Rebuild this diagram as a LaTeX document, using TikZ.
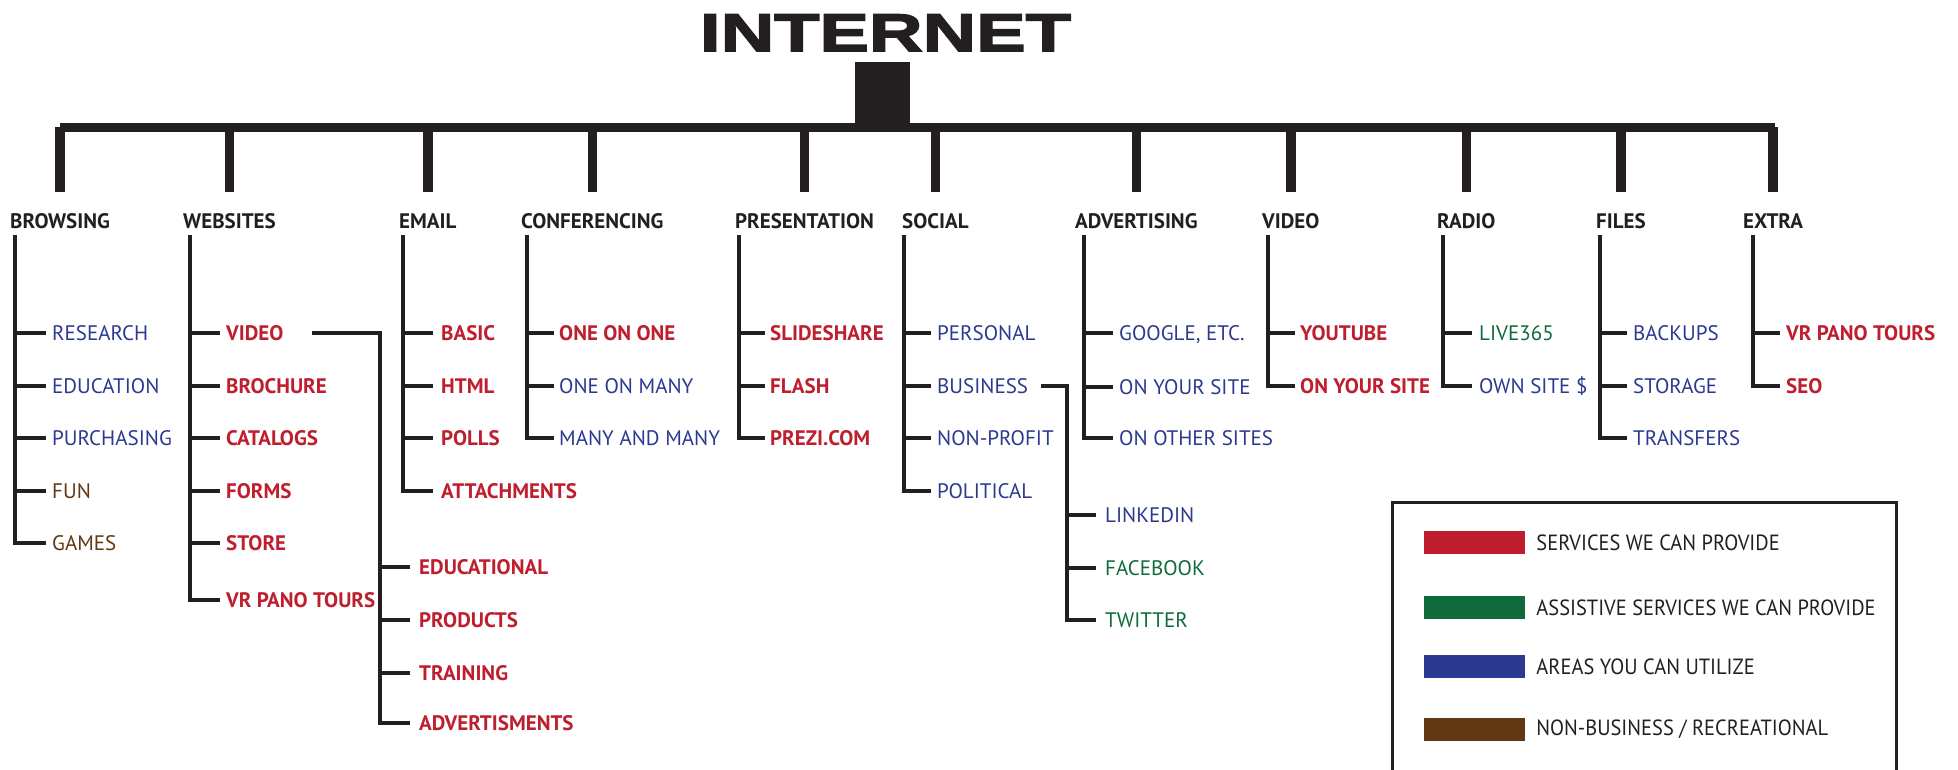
\documentclass[tikz,border=0pt]{standalone}
\usepackage{fontspec}
\setmainfont{PT Sans}
\newfontfamily\titlefont{Liberation Sans}[FakeStretch=1.4, BoldFeatures={FakeBold=3}]
\newfontfamily\legendfont{PT Sans}[FakeStretch=0.93]
\usetikzlibrary{positioning}
\definecolor{ink}{HTML}{231F20}
\definecolor{svcred}{HTML}{BE1E2D}
\definecolor{asgreen}{HTML}{0F6B3A}
\definecolor{areablue}{HTML}{2B3990}
\definecolor{funbrown}{HTML}{603813}
\tikzset{
  head/.style={anchor=base west, inner sep=0, text height=14.7pt, text depth=0pt, text=ink,
    font=\fontsize{21}{25}\selectfont\bfseries},
  item/.style={anchor=west, inner sep=0, text height=14.7pt, text depth=0pt,
    font=\fontsize{21}{25}\selectfont},
  svc/.style={item, text=svcred, font=\fontsize{21}{25}\selectfont\bfseries},
  area/.style={item, text=areablue},
  assist/.style={item, text=asgreen},
  leisure/.style={item, text=funbrown},
  drop/.style={ink, line width=9.5pt},
  twig/.style={ink, line width=4pt},
  swatch/.style={inner sep=0, minimum width=101pt, minimum height=23pt},
  legtext/.style={anchor=west, inner sep=0, text=ink, font=\legendfont\fontsize{22}{26}\selectfont}
}
\begin{document}
\begin{tikzpicture}[x=1pt, y=-1pt]
\path[use as bounding box] (0,0) rectangle (1958,770);
\clip (0,0) rectangle (1958,770);
% top of the tree
\node[anchor=base, inner sep=0, text=ink, font=\titlefont\fontsize{53}{60}\selectfont\bfseries] (net) at (885.5,51) {INTERNET};
\node[fill=ink, inner sep=0, minimum width=55pt, minimum height=70pt] (hub) at (882.5,97) {};
\node[fill=ink, inner sep=0, minimum width=1715pt, minimum height=9.5pt] (bar) at (917.4,127.5) {};
% headings
\node[head] (hbrw) at (10,228) {BROWSING};
\node[head] (hweb) at (183,228) {WEBSITES};
\node[head] (hmail) at (399,228) {EMAIL};
\node[head] (hconf) at (521,228) {CONFERENCING};
\node[head] (hpres) at (735,228) {PRESENTATION};
\node[head] (hsoc) at (902,228) {SOCIAL};
\node[head] (hadv) at (1075,228) {ADVERTISING};
\node[head] (hvid) at (1262,228) {VIDEO};
\node[head] (hrad) at (1437,228) {RADIO};
\node[head] (hfil) at (1596,228) {FILES};
\node[head] (hext) at (1743,228) {EXTRA};
\draw[drop] (bar.center -| hbrw.north) -- ([yshift=21pt]hbrw.north);
\draw[drop] (bar.center -| hweb.north) -- ([yshift=21pt]hweb.north);
\draw[drop] (bar.center -| hmail.north) -- ([yshift=21pt]hmail.north);
\draw[drop] (bar.center -| hconf.north) -- ([yshift=21pt]hconf.north);
\draw[drop] (bar.center -| hpres.north) -- ([yshift=21pt]hpres.north);
\draw[drop] (bar.center -| hsoc.north) -- ([yshift=21pt]hsoc.north);
\draw[drop] (bar.center -| hadv.north) -- ([yshift=21pt]hadv.north);
\draw[drop] (bar.center -| hvid.north) -- ([yshift=21pt]hvid.north);
\draw[drop] (bar.center -| hrad.north) -- ([yshift=21pt]hrad.north);
\draw[drop] (bar.center -| hfil.north) -- ([yshift=21pt]hfil.north);
\draw[drop] (bar.center -| hext.north) -- ([yshift=21pt]hext.north);
% browsing
\coordinate (brwtop) at (15,235);
\node[area] (res) at (52,333) {RESEARCH};
\node[area] (edu) at (52,386) {EDUCATION};
\node[area] (pur) at (52,438) {PURCHASING};
\node[leisure] (fun) at (52,491) {FUN};
\node[leisure] (gam) at (52,543) {GAMES};
\draw[twig] (brwtop) |- ([xshift=-6pt]res.west);
\draw[twig] (brwtop) |- ([xshift=-6pt]edu.west);
\draw[twig] (brwtop) |- ([xshift=-6pt]pur.west);
\draw[twig] (brwtop) |- ([xshift=-6pt]fun.west);
\draw[twig] (brwtop) |- ([xshift=-6pt]gam.west);
% websites
\coordinate (webtop) at (190,235);
\node[svc] (wvid) at (226,333) {VIDEO};
\node[svc] (broc) at (226,386) {BROCHURE};
\node[svc] (cat) at (226,438) {CATALOGS};
\node[svc] (form) at (226,491) {FORMS};
\node[svc] (store) at (226,543) {STORE};
\node[svc] (wvr) at (226,600) {VR PANO TOURS};
\draw[twig] (webtop) |- ([xshift=-6pt]wvid.west);
\draw[twig] (webtop) |- ([xshift=-6pt]broc.west);
\draw[twig] (webtop) |- ([xshift=-6pt]cat.west);
\draw[twig] (webtop) |- ([xshift=-6pt]form.west);
\draw[twig] (webtop) |- ([xshift=-6pt]store.west);
\draw[twig] (webtop) |- ([xshift=-6pt]wvr.west);
% video kinds
\node[svc] (vedu) at (419,567) {EDUCATIONAL};
\node[svc] (vprod) at (419,620) {PRODUCTS};
\node[svc] (vtrain) at (419,673) {TRAINING};
\node[svc] (vadv) at (419,723) {ADVERTISMENTS};
\draw[twig] ([xshift=28pt]wvid.east) -| ([xshift=-39pt]vadv.west) -- ([xshift=-9pt]vadv.west);
\draw[twig] ([xshift=-39pt]vedu.west) -- ([xshift=-9pt]vedu.west);
\draw[twig] ([xshift=-39pt]vprod.west) -- ([xshift=-9pt]vprod.west);
\draw[twig] ([xshift=-39pt]vtrain.west) -- ([xshift=-9pt]vtrain.west);
% email
\coordinate (mailtop) at (403,235);
\node[svc] (basic) at (441,333) {BASIC};
\node[svc] (html) at (441,386) {HTML};
\node[svc] (poll) at (441,438) {POLLS};
\node[svc] (att) at (441,491) {ATTACHMENTS};
\draw[twig] (mailtop) |- ([xshift=-8pt]basic.west);
\draw[twig] (mailtop) |- ([xshift=-8pt]html.west);
\draw[twig] (mailtop) |- ([xshift=-8pt]poll.west);
\draw[twig] (mailtop) |- ([xshift=-8pt]att.west);
% conferencing
\coordinate (conftop) at (527,235);
\node[svc] (one) at (559,333) {ONE ON ONE};
\node[area] (onemany) at (559,386) {ONE ON MANY};
\node[area] (many) at (559,438) {MANY AND MANY};
\draw[twig] (conftop) |- ([xshift=-5pt]one.west);
\draw[twig] (conftop) |- ([xshift=-5pt]onemany.west);
\draw[twig] (conftop) |- ([xshift=-5pt]many.west);
% presentation
\coordinate (prestop) at (739,235);
\node[svc] (slide) at (770,333) {SLIDESHARE};
\node[svc] (flash) at (770,386) {FLASH};
\node[svc] (prezi) at (770,438) {PREZI.COM};
\draw[twig] (prestop) |- ([xshift=-5pt]slide.west);
\draw[twig] (prestop) |- ([xshift=-5pt]flash.west);
\draw[twig] (prestop) |- ([xshift=-5pt]prezi.west);
% social
\coordinate (soctop) at (904,235);
\node[area] (pers) at (937,333) {PERSONAL};
\node[area] (bus) at (937,386) {BUSINESS};
\node[area] (nonp) at (937,438) {NON-PROFIT};
\node[area] (pol) at (937,491) {POLITICAL};
\draw[twig] (soctop) |- ([xshift=-6pt]pers.west);
\draw[twig] (soctop) |- ([xshift=-6pt]bus.west);
\draw[twig] (soctop) |- ([xshift=-6pt]nonp.west);
\draw[twig] (soctop) |- ([xshift=-6pt]pol.west);
% business networks
\node[area] (lnk) at (1105,515) {LINKEDIN};
\node[assist] (fb) at (1105,568) {FACEBOOK};
\node[assist] (tw) at (1105,620) {TWITTER};
\draw[twig] ([xshift=13pt]bus.east) -| ([xshift=-38pt]tw.west) -- ([xshift=-9pt]tw.west);
\draw[twig] ([xshift=-38pt]lnk.west) -- ([xshift=-9pt]lnk.west);
\draw[twig] ([xshift=-38pt]fb.west) -- ([xshift=-9pt]fb.west);
% advertising
\coordinate (advtop) at (1084,235);
\node[area] (goog) at (1119,333) {GOOGLE, ETC.};
\node[area] (ayour) at (1119,387) {ON YOUR SITE};
\node[area] (aother) at (1119,438) {ON OTHER SITES};
\draw[twig] (advtop) |- ([xshift=-6pt]goog.west);
\draw[twig] (advtop) |- ([xshift=-6pt]ayour.west);
\draw[twig] (advtop) |- ([xshift=-6pt]aother.west);
% video
\coordinate (vidtop) at (1268,235);
\node[svc] (yt) at (1300,333) {YOUTUBE};
\node[svc] (vyour) at (1300,386) {ON YOUR SITE};
\draw[twig] (vidtop) |- ([xshift=-5pt]yt.west);
\draw[twig] (vidtop) |- ([xshift=-5pt]vyour.west);
% radio
\coordinate (radtop) at (1443,235);
\node[assist] (live) at (1479,333) {LIVE365};
\node[area] (own) at (1479,386) {OWN SITE \$};
\draw[twig] (radtop) |- ([xshift=-7pt]live.west);
\draw[twig] (radtop) |- ([xshift=-7pt]own.west);
% files
\coordinate (filtop) at (1600,235);
\node[area] (back) at (1633,333) {BACKUPS};
\node[area] (stor) at (1633,386) {STORAGE};
\node[area] (trans) at (1633,438) {TRANSFERS};
\draw[twig] (filtop) |- ([xshift=-6pt]back.west);
\draw[twig] (filtop) |- ([xshift=-6pt]stor.west);
\draw[twig] (filtop) |- ([xshift=-6pt]trans.west);
% extra
\coordinate (exttop) at (1753,235);
\node[svc] (evr) at (1786,333) {VR PANO TOURS};
\node[svc] (seo) at (1786,386) {SEO};
\draw[twig] (exttop) |- ([xshift=-6pt]evr.west);
\draw[twig] (exttop) |- ([xshift=-6pt]seo.west);
% legend
\draw[ink, line width=3pt] (1392,502) rectangle (1896,800);
\node[swatch, fill=svcred] (sw1) at (1474,542.5) {};
\node[swatch, fill=asgreen] (sw2) at (1474,607.5) {};
\node[swatch, fill=areablue] (sw3) at (1474,666.5) {};
\node[swatch, fill=funbrown] (sw4) at (1474,729.5) {};
\node[legtext, right=11.5pt of sw1] (lg1) {SERVICES WE CAN PROVIDE};
\node[legtext, right=11.5pt of sw2] (lg2) {ASSISTIVE SERVICES WE CAN PROVIDE};
\node[legtext, right=11.5pt of sw3] (lg3) {AREAS YOU CAN UTILIZE};
\node[legtext, right=11.5pt of sw4] (lg4) {NON-BUSINESS / RECREATIONAL};
\end{tikzpicture}
\end{document}
